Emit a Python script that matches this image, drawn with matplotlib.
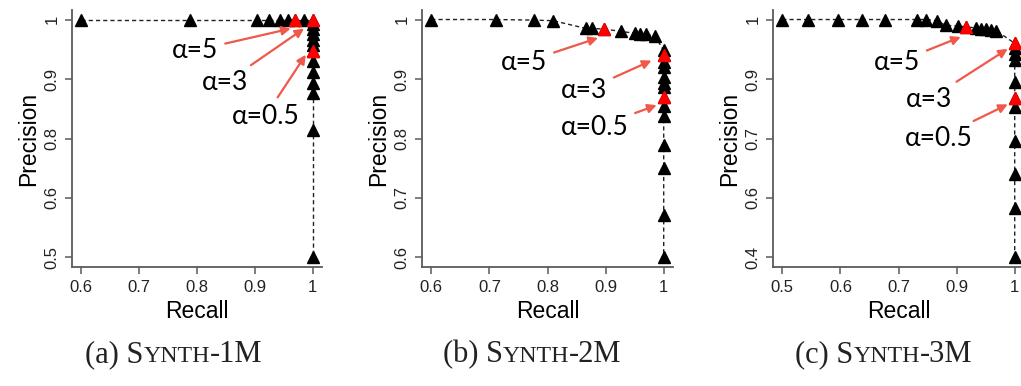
import numpy as np
import matplotlib
matplotlib.use('Agg')
import matplotlib.pyplot as plt

# SYNTH-1M
recall_1m = [0.6, 0.788, 0.904, 0.924, 0.943, 0.958, 0.970, 0.985, 1.0,
             1.0, 1.0, 1.0, 1.0, 1.0, 1.0, 1.0, 1.0, 1.0, 1.0, 1.0, 1.0]
precision_1m = [1.0, 1.0, 1.0, 1.0, 1.0, 1.0, 1.0, 1.0, 1.0,
                0.990, 0.981, 0.970, 0.958, 0.946, 0.933, 0.912, 0.890, 0.866, 0.845, 0.767, 0.5]
alpha_recall_1m = [0.970, 1.0, 1.0]
alpha_precision_1m = [1.0, 1.0, 0.933]
xticklabels_1m = ['0.6', '0.7', '0.8', '0.9', '1']
yticklabels_1m = ['0.5', '0.6', '0.8', '0.9', '1']

# SYNTH-2M
recall_2m = [0.6, 0.711, 0.777, 0.810, 0.866, 0.876, 0.898, 0.926, 0.950, 0.959, 0.970, 0.985,
             1.0, 1.0, 1.0, 1.0, 1.0, 1.0, 1.0, 1.0, 1.0, 1.0, 1.0, 1.0, 1.0, 1.0]
precision_2m = [1.0, 1.0, 0.999, 0.998, 0.985, 0.985, 0.984, 0.980, 0.977, 0.976, 0.975, 0.972,
                0.948, 0.941, 0.928, 0.920, 0.903, 0.894, 0.886, 0.869, 0.855, 0.838, 0.789, 0.750, 0.671, 0.6]
alpha_recall_2m = [0.898, 1.0, 1.0]
alpha_precision_2m = [0.984, 0.941, 0.869]
xticklabels_2m = ['0.6', '0.7', '0.8', '0.9', '1']
yticklabels_2m = ['0.6', '0.7', '0.8', '0.9', '1']

# SYNTH-3M
recall_3m = [0.5, 0.556, 0.619, 0.671, 0.720, 0.790, 0.810, 0.832, 0.852, 0.877, 0.896, 0.917,
             0.928, 0.939, 0.950, 0.960, 1.0, 1.0, 1.0, 1.0, 1.0, 1.0, 1.0, 1.0, 1.0, 1.0, 1.0]
precision_3m = [1.0, 1.0, 1.0, 1.0, 1.0, 1.0, 1.0, 0.997, 0.985, 0.984, 0.981, 0.979,
                0.977, 0.975, 0.974, 0.972, 0.940, 0.927, 0.914, 0.899, 0.842, 0.803, 0.780,
                0.694, 0.610, 0.526, 0.4]
alpha_recall_3m = [0.896, 1.0, 1.0]
alpha_precision_3m = [0.981, 0.940, 0.803]
xticklabels_3m = ['0.5', '0.6', '0.7', '0.9', '1']
yticklabels_3m = ['0.4', '0.6', '0.7', '0.9', '1']

alpha_labels = ['α=5', 'α=3', 'α=0.5']
captions = [('(a) ', 'Synth', '-1M'), ('(b) ', 'Synth', '-2M'), ('(c) ', 'Synth', '-3M')]

AXIS_GRAY = '#5a5a5a'
ARROW_RED = '#f0584a'


def setup_axes(ax, xlabels, ylabels):
    xmin = float(xlabels[0])
    ymin = float(ylabels[0])
    xt = np.linspace(xmin, 1, 5)
    yt = np.linspace(ymin, 1, 5)
    ax.set_xlim(xmin - 0.04 * (1 - xmin), 1 + 0.04 * (1 - xmin))
    ax.set_ylim(ymin - 0.04 * (1 - ymin), 1 + 0.04 * (1 - ymin))
    ax.set_xticks(xt)
    ax.set_xticklabels(xlabels)
    ax.set_yticks(yt)
    ax.set_yticklabels(ylabels, rotation=90, va='center')
    for s in ['top', 'right']:
        ax.spines[s].set_visible(False)
    for s in ['left', 'bottom']:
        ax.spines[s].set_color(AXIS_GRAY)
        ax.spines[s].set_linewidth(1.3)
    ax.tick_params(direction='out', length=5, width=1.1, color=AXIS_GRAY,
                   labelsize=12, labelcolor='#222222', pad=4)
    for t in ax.get_xticklabels() + ax.get_yticklabels():
        t.set_family('Liberation Sans')
    ax.set_xlabel('Recall', fontsize=16.5, family='Liberation Sans', labelpad=4)
    ax.set_ylabel('Precision', fontsize=16.5, family='Liberation Sans', labelpad=3)


def draw_panel(ax, rec, prec, arec, aprec, xlabels, ylabels, text_pos, heads):
    setup_axes(ax, xlabels, ylabels)
    ax.plot(rec, prec, color='#222222', lw=1.0, dashes=(3, 2.2), zorder=1)
    ax.plot(rec, prec, ls='none', marker='^', ms=8, color='black', zorder=2)
    ax.plot(arec, aprec, ls='none', marker='^', ms=8, color='#ff0000', zorder=3)
    for lab, tp, hd in zip(alpha_labels, text_pos, heads):
        ax.annotate(lab, xy=hd, xytext=tp, ha='center', va='center',
                    fontsize=19, family='Lato', color='black', zorder=4,
                    arrowprops=dict(arrowstyle='-|>', color=ARROW_RED, lw=1.6,
                                    mutation_scale=13, shrinkA=3, shrinkB=0))


fig = plt.figure(figsize=(10.21, 3.86), dpi=100)
W, H = 1021.0, 386.0
ax1 = fig.add_axes([72 / W, (386 - 267) / H, 250 / W, 257 / H])
ax2 = fig.add_axes([422 / W, (386 - 267) / H, 251 / W, 257 / H])
ax3 = fig.add_axes([773 / W, (386 - 267) / H, 251 / W, 257 / H])

draw_panel(ax1, recall_1m, precision_1m, alpha_recall_1m, alpha_precision_1m,
           xticklabels_1m, yticklabels_1m,
           [(0.797, 0.935), (0.849, 0.867), (0.918, 0.797)],
           [(0.962, 0.981), (0.985, 0.981), (0.988, 0.926)])
draw_panel(ax2, recall_2m, precision_2m, alpha_recall_2m, alpha_precision_2m,
           xticklabels_2m, yticklabels_2m,
           [(0.760, 0.928), (0.863, 0.880), (0.881, 0.818)],
           [(0.887, 0.969), (0.979, 0.931), (0.988, 0.856)])
draw_panel(ax3, recall_3m, precision_3m, alpha_recall_3m, alpha_precision_3m,
           xticklabels_3m, yticklabels_3m,
           [(0.747, 0.892), (0.816, 0.799), (0.836, 0.701)],
           [(0.884, 0.956), (0.985, 0.926), (0.985, 0.786)])


def small_caps_caption(xc, y, prefix, word, suffix, size=22):
    renderer = fig.canvas.get_renderer()
    parts = [(prefix + word[0], size), (word[1:].upper(), size * 0.78), (suffix, size)]
    texts = [fig.text(0, y, s, fontsize=fs, family='Liberation Serif',
                      va='baseline', color='#222222') for s, fs in parts]
    widths = [t.get_window_extent(renderer).width for t in texts]
    x = xc * W - sum(widths) / 2
    for t, w in zip(texts, widths):
        t.set_x(x / W)
        x += w


fig.canvas.draw()
for xc, cap in zip([174 / W, 532 / W, 884 / W], captions):
    small_caps_caption(xc, (386 - 362) / H, *cap)

fig.savefig('out.png', dpi=100)
